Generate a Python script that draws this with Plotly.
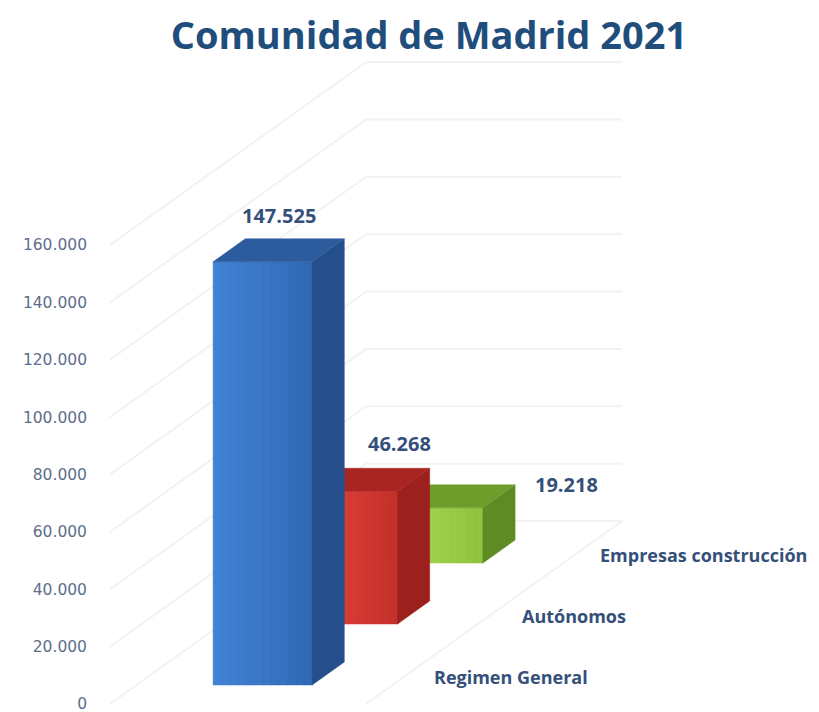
import plotly.graph_objects as go

# ---- data ----
categories = ["Regimen General", "Autónomos", "Empresas construcción"]
values = [147525, 46268, 19218]
y_ticks = [0, 20000, 40000, 60000, 80000, 100000, 120000, 140000, 160000]

# ---- styling ----
front_light = ["#4282d3", "#e8463f", "#b0dc58"]
front_dark = ["#306ab6", "#c5302b", "#90c33f"]
side_colors = ["#244f8c", "#9c201d", "#5f8b25"]
top_colors = ["#2d5c9e", "#a92521", "#6e9d2c"]
label_shift = [(0, 35), (35, 36), (117, 12)]      # data label offsets (px)
cat_shift = [23, 26, 18]                           # category label offsets (px)

TITLE_COLOR = "#1f4e7d"
TEXT_COLOR = "#34507a"
TICK_COLOR = "#5d6e8c"
GRID_COLOR = "#f2f2f2"

# ---- oblique 3D projection onto the 2D axes ----
X0 = 110.0            # x of the floor's front-left corner
FLOOR_W = 256.0       # lateral width of the floor
DEPTH = 183.0         # vertical rise of the floor depth (px)
SLANT = 1.40          # horizontal shift per px of depth rise
UPV = 160000 / 459.0  # value units per screen pixel
ZERO_PX = 704.0       # screen row of the value 0 on the front edge
ROW = DEPTH / len(values)
BAR_D = 23.0          # bar thickness along depth (px rise)
BAR_LAT0 = 76.5       # bar lateral start
BAR_W = 99.0          # bar lateral width


def proj(lat, d, v):
    """Map (lateral, depth, value) to (x axis, y axis) coordinates."""
    return X0 + lat + d * SLANT, v + d * UPV


def poly(points):
    xs, ys = zip(*[proj(*p) for p in points])
    return list(xs) + [xs[0]], list(ys) + [ys[0]]


def mix(c1, c2, t):
    a = [int(c1[i:i + 2], 16) for i in (1, 3, 5)]
    b = [int(c2[i:i + 2], 16) for i in (1, 3, 5)]
    return "#%02x%02x%02x" % tuple(round(a[j] + (b[j] - a[j]) * t) for j in range(3))


fig = go.Figure()

# faint wall gridlines: left wall diagonals and back wall horizontals
gx, gy = [], []
for t in y_ticks:
    for p0, p1 in (((0, 0, t), (0, DEPTH, t)), ((0, DEPTH, t), (FLOOR_W, DEPTH, t))):
        (x0, y0), (x1, y1) = proj(*p0), proj(*p1)
        gx += [x0, x1, None]
        gy += [y0, y1, None]
# floor right edge
(x0, y0), (x1, y1) = proj(FLOOR_W, 0, 0), proj(FLOOR_W, DEPTH, 0)
gx += [x0, x1, None]
gy += [y0, y1, None]
fig.add_trace(go.Scatter(x=gx, y=gy, mode="lines",
                         line=dict(color=GRID_COLOR, width=2),
                         hoverinfo="skip", showlegend=False))

# bars, drawn back to front
lat0, lat1 = BAR_LAT0, BAR_LAT0 + BAR_W
for i in reversed(range(len(values))):
    v = values[i]
    dc = ROW * (i + 0.5)
    d0, d1 = dc - BAR_D / 2, dc + BAR_D / 2

    # front face, in vertical strips for a soft shading
    n = 12
    for s in range(n):
        la = lat0 + BAR_W * s / n
        lb = lat0 + BAR_W * (s + 1) / n + 0.6
        xs, ys = poly([(la, d0, 0), (lb, d0, 0), (lb, d0, v), (la, d0, v)])
        c = mix(front_light[i], front_dark[i], s / (n - 1))
        fig.add_trace(go.Scatter(x=xs, y=ys, fill="toself", fillcolor=c,
                                 mode="lines", line=dict(width=0.5, color=c),
                                 hoverinfo="skip", showlegend=False))
    # right side face
    xs, ys = poly([(lat1, d0, 0), (lat1, d1, 0), (lat1, d1, v), (lat1, d0, v)])
    fig.add_trace(go.Scatter(x=xs, y=ys, fill="toself", fillcolor=side_colors[i],
                             mode="lines", line=dict(width=0.5, color=side_colors[i]),
                             hoverinfo="skip", showlegend=False))
    # top face
    xs, ys = poly([(lat0, d0, v), (lat1, d0, v), (lat1, d1, v), (lat0, d1, v)])
    fig.add_trace(go.Scatter(x=xs, y=ys, fill="toself", fillcolor=top_colors[i],
                             mode="lines", line=dict(width=0.5, color=top_colors[i]),
                             hoverinfo="skip", showlegend=False))

annotations = []
for i, v in enumerate(values):
    dc = ROW * (i + 0.5)
    # value label above the bar
    ax, ay = proj(BAR_LAT0 + BAR_W / 2, dc, v)
    annotations.append(dict(
        x=ax, y=ay, xref="x", yref="y", showarrow=False,
        text=f"{v:,}".replace(",", "."),
        xshift=label_shift[i][0], yshift=label_shift[i][1],
        font=dict(family="Open Sans", size=20, color=TEXT_COLOR, weight="bold")))
    # category label along the floor edge
    cx, cy = proj(FLOOR_W, dc, 0)
    annotations.append(dict(
        x=cx, y=cy, xref="x", yref="y", showarrow=False, xanchor="left",
        text=categories[i], xshift=cat_shift[i], yshift=-3,
        font=dict(family="Open Sans", size=18, color=TEXT_COLOR, weight="bold")))

fig.update_layout(
    width=819, height=712,
    margin=dict(l=110, r=0, t=0, b=0),
    paper_bgcolor="white", plot_bgcolor="white",
    separators=",.",
    title=dict(text="Comunidad de Madrid 2021", x=429 / 819, xanchor="center",
               y=1 - 36 / 712, yanchor="middle", yref="container",
               font=dict(family="Open Sans", size=38, color=TITLE_COLOR, weight="bold")),
    xaxis=dict(range=[110, 819], visible=False, fixedrange=True, automargin=False),
    yaxis=dict(range=[-(712 - ZERO_PX) * UPV, ZERO_PX * UPV], tickvals=y_ticks,
               tickformat=",d", showgrid=False, zeroline=False, showline=False,
               ticks="", ticklabelstandoff=22, ticklabeloverflow="allow",
               automargin=False,
               tickfont=dict(family="DejaVu Sans", size=15.5, color=TICK_COLOR),
               fixedrange=True),
    annotations=annotations,
    showlegend=False,
)

fig.write_html("out.html")
